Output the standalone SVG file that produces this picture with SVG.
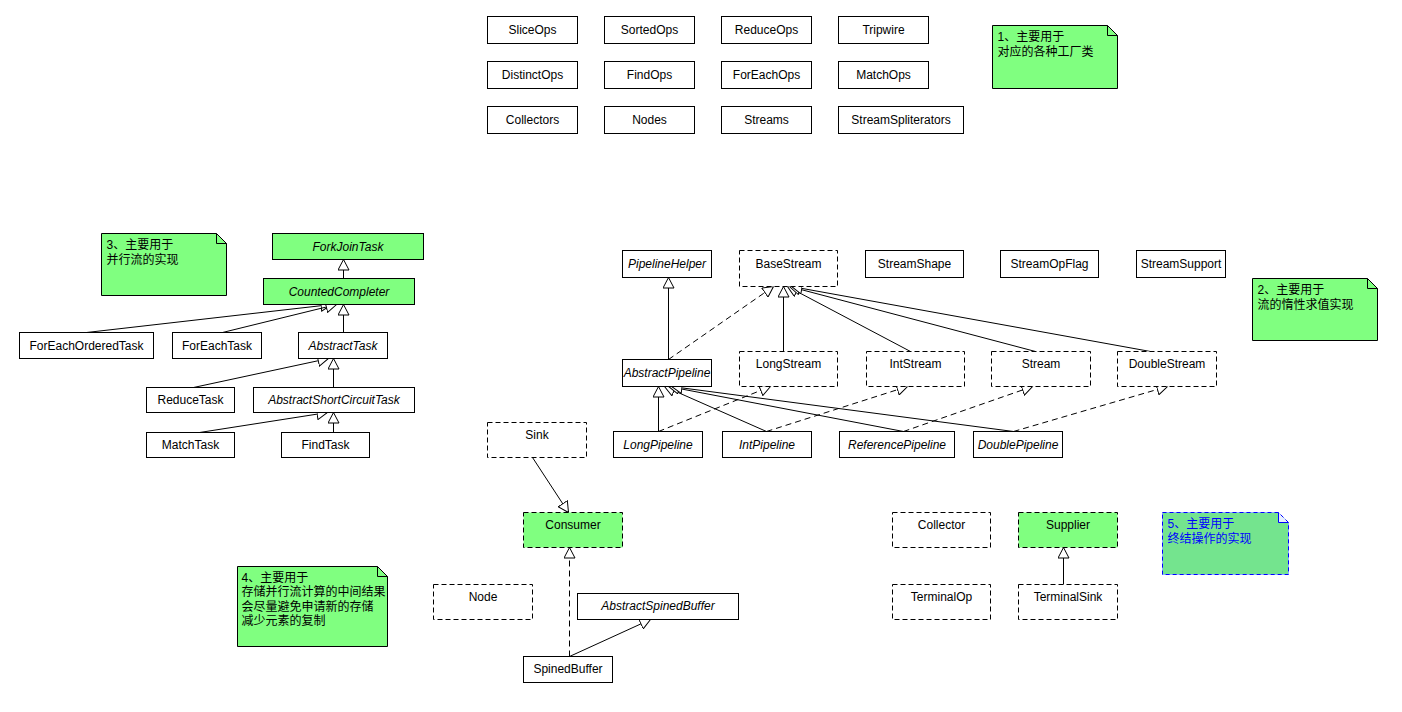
<svg xmlns="http://www.w3.org/2000/svg" width="1402" height="712" viewBox="0 0 1402 712">
<style>
.b{fill:#fff;stroke:#000;stroke-width:1}
.d{fill:#fff;stroke:#000;stroke-width:1;stroke-dasharray:5,3}
.g{fill:#80FF80}
.t{font-family:"Liberation Sans",Arial,sans-serif;font-size:12px;text-anchor:middle;fill:#000}
.i{font-style:italic}
.nt{font-family:"Liberation Sans","Noto Sans CJK SC",sans-serif;font-size:12px;fill:#000}
.note{fill:#80FF80;stroke:#000;stroke-width:1}
.fold{fill:none;stroke:#000;stroke-width:1}
.c{fill:none;stroke:#000;stroke-width:1;marker-end:url(#tri)}
.cd{fill:none;stroke:#000;stroke-width:1;stroke-dasharray:6,4;marker-end:url(#tri)}
</style>
<defs>
<marker id="tri" viewBox="0 0 12 12" refX="11" refY="6" markerWidth="12" markerHeight="12" markerUnits="userSpaceOnUse" orient="auto">
<path d="M0.5,0.5 L11,6 L0.5,11.5 Z" fill="#fff" stroke="#000" stroke-width="1"/>
</marker>
</defs>
<rect width="1402" height="712" fill="#fff"/>
<g transform="translate(0.5,0.5)">
<g id="connectors">
<path class="c" d="M343,278 L343,259"/>
<path class="c" d="M86,332 L331,304"/>
<path class="c" d="M222,332 L336,304"/>
<path class="c" d="M343,332 L343,304"/>
<path class="c" d="M193,387 L328,358"/>
<path class="c" d="M333,387 L333,358"/>
<path class="c" d="M199,432 L327,412"/>
<path class="c" d="M333,432 L333,412"/>
<path class="c" d="M668,359 L668,277"/>
<path class="cd" d="M668,359 L773,286"/>
<path class="c" d="M783,351 L783,286"/>
<path class="c" d="M910,351 L787,286"/>
<path class="c" d="M1035,351 L789,286"/>
<path class="c" d="M1150,351 L791,286"/>
<path class="c" d="M658,431 L658,386"/>
<path class="cd" d="M658,431 L770,386"/>
<path class="c" d="M766,431 L664,386"/>
<path class="cd" d="M766,431 L907,386"/>
<path class="c" d="M903,431 L668,386"/>
<path class="cd" d="M903,431 L1032,386"/>
<path class="c" d="M1013,431 L671,386"/>
<path class="cd" d="M1013,431 L1167,386"/>
<path class="c" d="M532,457 L568,512"/>
<path class="cd" d="M569,656 L569,547"/>
<path class="c" d="M569,656 L650,619"/>
<path class="c" d="M1063,584 L1063,547"/>
</g>
<g id="SliceOps"><rect class="b" x="487" y="16" width="90" height="27"/><text class="t" x="532" y="33">SliceOps</text></g>
<g id="SortedOps"><rect class="b" x="604" y="16" width="90" height="27"/><text class="t" x="649" y="33">SortedOps</text></g>
<g id="ReduceOps"><rect class="b" x="721" y="16" width="90" height="27"/><text class="t" x="766" y="33">ReduceOps</text></g>
<g id="Tripwire"><rect class="b" x="838" y="16" width="90" height="27"/><text class="t" x="883" y="33">Tripwire</text></g>
<g id="DistinctOps"><rect class="b" x="487" y="61" width="90" height="27"/><text class="t" x="532" y="78">DistinctOps</text></g>
<g id="FindOps"><rect class="b" x="604" y="61" width="90" height="27"/><text class="t" x="649" y="78">FindOps</text></g>
<g id="ForEachOps"><rect class="b" x="721" y="61" width="90" height="27"/><text class="t" x="766" y="78">ForEachOps</text></g>
<g id="MatchOps"><rect class="b" x="838" y="61" width="90" height="27"/><text class="t" x="883" y="78">MatchOps</text></g>
<g id="Collectors"><rect class="b" x="487" y="106" width="90" height="27"/><text class="t" x="532" y="123">Collectors</text></g>
<g id="Nodes"><rect class="b" x="604" y="106" width="90" height="27"/><text class="t" x="649" y="123">Nodes</text></g>
<g id="Streams"><rect class="b" x="721" y="106" width="90" height="27"/><text class="t" x="766" y="123">Streams</text></g>
<g id="StreamSpliterators"><rect class="b" x="838" y="106" width="125" height="27"/><text class="t" x="900.5" y="123">StreamSpliterators</text></g>
<g id="note1"><path class="note" d="M992,25 H1107 L1117,35 V88 H992 Z"/><path class="fold" d="M1107,25 V35 H1117"/><text class="nt" x="997" y="40">1、主要用于</text><text class="nt" x="997" y="55">对应的各种工厂类</text></g>
<g id="note3"><path class="note" d="M101,233 H216 L226,243 V295 H101 Z"/><path class="fold" d="M216,233 V243 H226"/><text class="nt" x="106" y="248">3、主要用于</text><text class="nt" x="106" y="263">并行流的实现</text></g>
<g id="ForkJoinTask"><rect class="b g" x="272" y="233" width="151" height="26"/><text class="t i" x="347.5" y="250">ForkJoinTask</text></g>
<g id="CountedCompleter"><rect class="b g" x="263" y="278" width="151" height="26"/><text class="t i" x="338.5" y="295">CountedCompleter</text></g>
<g id="ForEachOrderedTask"><rect class="b" x="19" y="332" width="134" height="26"/><text class="t" x="86" y="349">ForEachOrderedTask</text></g>
<g id="ForEachTask"><rect class="b" x="172" y="332" width="89" height="26"/><text class="t" x="216.5" y="349">ForEachTask</text></g>
<g id="AbstractTask"><rect class="b" x="298" y="332" width="89" height="26"/><text class="t i" x="342.5" y="349">AbstractTask</text></g>
<g id="ReduceTask"><rect class="b" x="146" y="387" width="88" height="25"/><text class="t" x="190" y="403">ReduceTask</text></g>
<g id="AbstractShortCircuitTask"><rect class="b" x="253" y="387" width="161" height="25"/><text class="t i" x="333.5" y="403">AbstractShortCircuitTask</text></g>
<g id="MatchTask"><rect class="b" x="146" y="432" width="88" height="25"/><text class="t" x="190" y="448">MatchTask</text></g>
<g id="FindTask"><rect class="b" x="281" y="432" width="88" height="25"/><text class="t" x="325" y="448">FindTask</text></g>
<g id="PipelineHelper"><rect class="b" x="622" y="250" width="89" height="27"/><text class="t i" x="666.5" y="267">PipelineHelper</text></g>
<g id="BaseStream"><rect class="d" x="739" y="250" width="98" height="36"/><text class="t" x="788" y="267">BaseStream</text></g>
<g id="StreamShape"><rect class="b" x="865" y="250" width="98" height="27"/><text class="t" x="914" y="267">StreamShape</text></g>
<g id="StreamOpFlag"><rect class="b" x="1000" y="250" width="98" height="27"/><text class="t" x="1049" y="267">StreamOpFlag</text></g>
<g id="StreamSupport"><rect class="b" x="1136" y="250" width="89" height="27"/><text class="t" x="1180.5" y="267">StreamSupport</text></g>
<g id="note2"><path class="note" d="M1252,278 H1367 L1377,288 V340 H1252 Z"/><path class="fold" d="M1367,278 V288 H1377"/><text class="nt" x="1257" y="293">2、主要用于</text><text class="nt" x="1257" y="308">流的惰性求值实现</text></g>
<g id="AbstractPipeline"><rect class="b" x="622" y="359" width="89" height="27"/><text class="t i" x="666.5" y="376">AbstractPipeline</text></g>
<g id="LongStream"><rect class="d" x="739" y="351" width="98" height="35"/><text class="t" x="788" y="367">LongStream</text></g>
<g id="IntStream"><rect class="d" x="866" y="351" width="98" height="35"/><text class="t" x="915" y="367">IntStream</text></g>
<g id="Stream"><rect class="d" x="991" y="351" width="99" height="35"/><text class="t" x="1040.5" y="367">Stream</text></g>
<g id="DoubleStream"><rect class="d" x="1117" y="351" width="99" height="35"/><text class="t" x="1166.5" y="367">DoubleStream</text></g>
<g id="LongPipeline"><rect class="b" x="613" y="431" width="89" height="26"/><text class="t i" x="657.5" y="448">LongPipeline</text></g>
<g id="IntPipeline"><rect class="b" x="722" y="431" width="89" height="26"/><text class="t i" x="766.5" y="448">IntPipeline</text></g>
<g id="ReferencePipeline"><rect class="b" x="839" y="431" width="115" height="26"/><text class="t i" x="896.5" y="448">ReferencePipeline</text></g>
<g id="DoublePipeline"><rect class="b" x="973" y="431" width="89" height="26"/><text class="t i" x="1017.5" y="448">DoublePipeline</text></g>
<g id="Sink"><rect class="d" x="487" y="422" width="99" height="35"/><text class="t" x="536.5" y="438">Sink</text></g>
<g id="Consumer"><rect class="d g" x="523" y="512" width="99" height="35"/><text class="t" x="572.5" y="528">Consumer</text></g>
<g id="Node"><rect class="d" x="433" y="584" width="99" height="35"/><text class="t" x="482.5" y="600">Node</text></g>
<g id="AbstractSpinedBuffer"><rect class="b" x="577" y="593" width="161" height="26"/><text class="t i" x="657.5" y="609">AbstractSpinedBuffer</text></g>
<g id="SpinedBuffer"><rect class="b" x="523" y="656" width="89" height="26"/><text class="t" x="567.5" y="672">SpinedBuffer</text></g>
<g id="note4"><path class="note" d="M237,566 H377 L387,576 V646 H237 Z"/><path class="fold" d="M377,566 V576 H387"/><text class="nt" x="241" y="581">4、主要用于</text><text class="nt" x="241" y="595.5">存储并行流计算的中间结果</text><text class="nt" x="241" y="610">会尽量避免申请新的存储</text><text class="nt" x="241" y="624.5">减少元素的复制</text></g>
<g id="Collector"><rect class="d" x="892" y="512" width="98" height="35"/><text class="t" x="941" y="528">Collector</text></g>
<g id="Supplier"><rect class="d g" x="1018" y="512" width="99" height="35"/><text class="t" x="1067.5" y="528">Supplier</text></g>
<g id="TerminalOp"><rect class="d" x="892" y="584" width="98" height="35"/><text class="t" x="941" y="600">TerminalOp</text></g>
<g id="TerminalSink"><rect class="d" x="1018" y="584" width="99" height="35"/><text class="t" x="1067.5" y="600">TerminalSink</text></g>
<g id="note5"><path d="M1162,512 H1278 L1288,522 V574 H1162 Z" fill="#74E48E" stroke="#8CB4FF" stroke-width="1"/><path d="M1278,512 V522 H1288 Z" fill="#E8F0FF"/><path d="M1162,512 H1278 L1288,522 V574 H1162 Z" fill="none" stroke="#0000FF" stroke-width="1" stroke-dasharray="4,3"/><path d="M1278,512 V522 H1288" fill="none" stroke="#0000FF" stroke-width="1"/><text class="nt" x="1167" y="527" fill="#0000FF" style="fill:#0000FF">5、主要用于</text><text class="nt" x="1167" y="542" style="fill:#0000FF">终结操作的实现</text></g>
</g>
</svg>
